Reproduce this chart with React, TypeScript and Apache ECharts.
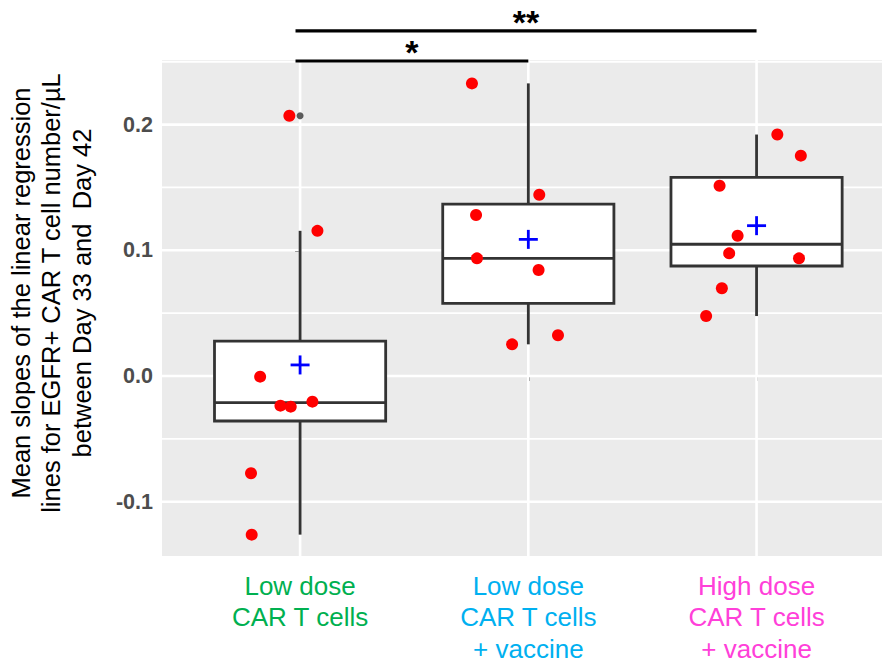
import React, { useEffect, useRef } from "react";
import * as echarts from "echarts";

// ---------- data ----------
const categories = [
  "Low dose\nCAR T cells",
  "Low dose\nCAR T cells\n+ vaccine",
  "High dose\nCAR T cells\n+ vaccine",
];
const categoryColors = ["#00B050", "#00B0F0", "#FF40D9"];

// box statistics per group
const whiskerLow = [-0.1262, 0.0252, 0.0477];
const q1 = [-0.0358, 0.0578, 0.0875];
const median = [-0.0212, 0.0936, 0.1048];
const q3 = [0.0278, 0.1368, 0.158];
const whiskerHigh = [0.1155, 0.2328, 0.1921];
const means = [0.0088, 0.1087, 0.1196];
const outlierGroup = [0];
const outlierValue = [0.207];

// individual points (value, horizontal jitter in category units)
const group1Values = [0.207, 0.1155, -0.0005, -0.0236, -0.0244, -0.0204, -0.0774, -0.1262];
const group1Jitter = [-0.047, 0.076, -0.175, -0.086, -0.041, 0.054, -0.215, -0.212];
const group2Values = [0.2328, 0.1442, 0.1281, 0.0936, 0.0843, 0.0252, 0.0324];
const group2Jitter = [-0.247, 0.048, -0.229, -0.225, 0.045, -0.071, 0.13];
const group3Values = [0.1921, 0.1753, 0.1514, 0.1116, 0.0976, 0.0936, 0.0698, 0.0477];
const group3Jitter = [0.091, 0.194, -0.162, -0.083, -0.12, 0.186, -0.152, -0.221];

// axis ticks
const yMajorTicks = [-0.1, 0, 0.1, 0.2];
const yMinorTicks = [-0.05, 0.05, 0.15, 0.25];
const xTicks = [0, 1, 2];

// significance brackets
const bracketFrom = [-0.02, -0.02];
const bracketTo = [1, 2];
const bracketY = [0.2506, 0.2745];
const bracketLabel = ["*", "**"];

const yTitle = [
  "Mean slopes of the linear regression",
  "lines for EGFR+ CAR T cell number/µL",
  "between Day 33 and  Day 42",
];

// ---------- chart ----------
const FONT = "'Liberation Sans', Arial, Helvetica, sans-serif";
const X_MIN = -0.605;
const X_MAX = 2.6;
const Y_MIN = -0.1432;
const Y_MAX = 0.2514;

export default function App() {
  const ref = useRef<HTMLDivElement>(null);

  useEffect(() => {
    if (!ref.current) return;
    const chart = echarts.init(ref.current, undefined, { renderer: "svg" });

    const groups = [
      [group1Values, group1Jitter],
      [group2Values, group2Jitter],
      [group3Values, group3Jitter],
    ];
    const points: number[][] = [];
    groups.forEach(([vals, jit], g) => {
      vals.forEach((v, i) => points.push([g + jit[i], v]));
    });

    const boxData = xTicks.map((g) => [g, whiskerLow[g], q1[g], median[g], q3[g], whiskerHigh[g]]);
    const meanData = xTicks.map((g) => [g, means[g]]);
    const outlierData = outlierGroup.map((g, i) => [g, outlierValue[i]]);
    const bracketData = bracketFrom.map((f, i) => [f, bracketY[i], bracketTo[i], i]);

    const option: any = {
      animation: false,
      backgroundColor: "#FFFFFF",
      grid: {
        left: 162,
        top: 60,
        width: 731.5,
        height: 496,
        show: true,
        backgroundColor: "#EBEBEB",
        borderWidth: 0,
        containLabel: false,
        outerBoundsMode: "none",
      },
      xAxis: {
        type: "value",
        min: X_MIN,
        max: X_MAX,
        axisLine: { show: false },
        splitLine: { show: false },
        axisTick: {
          show: true,
          customValues: xTicks,
          length: 5,
          lineStyle: { color: "#333333", width: 2 },
        },
        axisLabel: {
          customValues: xTicks,
          formatter: (v: number) => categories[Math.round(Number(v))],
          color: (v: any) => categoryColors[Math.round(Number(v))],
          fontSize: 26,
          lineHeight: 31.5,
          margin: 14,
          fontFamily: FONT,
        },
      },
      yAxis: {
        type: "value",
        min: Y_MIN,
        max: Y_MAX,
        axisLine: { show: false },
        splitLine: { show: false },
        axisTick: {
          show: true,
          customValues: yMajorTicks,
          length: 5,
          lineStyle: { color: "#333333", width: 2 },
        },
        axisLabel: {
          customValues: yMajorTicks,
          formatter: (v: number) => Number(v).toFixed(1),
          fontSize: 21.5,
          fontWeight: "bold",
          color: "#4D4D4D",
          margin: 9,
          fontFamily: FONT,
        },
      },
      graphic: [
        {
          type: "text",
          x: 51,
          y: 293,
          rotation: Math.PI / 2,
          style: {
            text: yTitle.join("\n"),
            fontSize: 25.5,
            lineHeight: 30.5,
            fontFamily: FONT,
            fill: "#000000",
            align: "center",
            verticalAlign: "middle",
            textAlign: "center",
            textVerticalAlign: "middle",
          },
        },
      ],
      series: [
        // panel grid lines
        {
          type: "custom",
          z: 1,
          silent: true,
          data: [[0, 0]],
          renderItem: (params: any, api: any) => {
            const children: any[] = [];
            yMinorTicks.forEach((t) => {
              const a = api.coord([X_MIN, t]);
              const b = api.coord([X_MAX, t]);
              children.push({
                type: "line",
                shape: { x1: a[0], y1: a[1], x2: b[0], y2: b[1] },
                style: { stroke: "#FFFFFF", lineWidth: 1.8 },
              });
            });
            yMajorTicks.forEach((t) => {
              const a = api.coord([X_MIN, t]);
              const b = api.coord([X_MAX, t]);
              children.push({
                type: "line",
                shape: { x1: a[0], y1: a[1], x2: b[0], y2: b[1] },
                style: { stroke: "#FFFFFF", lineWidth: 2.6 },
              });
            });
            xTicks.forEach((t) => {
              const a = api.coord([t, Y_MIN]);
              const b = api.coord([t, Y_MAX]);
              children.push({
                type: "line",
                shape: { x1: a[0], y1: a[1], x2: b[0], y2: b[1] },
                style: { stroke: "#FFFFFF", lineWidth: 2.6 },
              });
            });
            return { type: "group", children };
          },
        },
        // boxes
        {
          type: "custom",
          z: 2,
          silent: true,
          data: boxData,
          encode: { x: 0, y: [1, 2, 3, 4, 5] },
          renderItem: (params: any, api: any) => {
            const g = api.value(0);
            const lo = api.coord([g, api.value(1)]);
            const bq1 = api.coord([g - 0.375, api.value(2)]);
            const med1 = api.coord([g - 0.375, api.value(3)]);
            const med2 = api.coord([g + 0.375, api.value(3)]);
            const bq3 = api.coord([g + 0.375, api.value(4)]);
            const hi = api.coord([g, api.value(5)]);
            const midQ1 = api.coord([g, api.value(2)]);
            const midQ3 = api.coord([g, api.value(4)]);
            const stroke = { stroke: "#333333", lineWidth: 2.8 };
            return {
              type: "group",
              children: [
                { type: "line", shape: { x1: midQ3[0], y1: midQ3[1], x2: hi[0], y2: hi[1] }, style: stroke },
                { type: "line", shape: { x1: lo[0], y1: lo[1], x2: midQ1[0], y2: midQ1[1] }, style: stroke },
                {
                  type: "rect",
                  shape: { x: bq1[0], y: bq3[1], width: bq3[0] - bq1[0], height: bq1[1] - bq3[1] },
                  style: { fill: "#FFFFFF", stroke: "#333333", lineWidth: 2.8 },
                },
                { type: "line", shape: { x1: med1[0], y1: med1[1], x2: med2[0], y2: med2[1] }, style: stroke },
              ],
            };
          },
        },
        // outliers
        {
          type: "scatter",
          z: 3,
          silent: true,
          data: outlierData,
          symbol: "circle",
          symbolSize: 7,
          itemStyle: { color: "#333333" },
        },
        // individual points
        {
          type: "scatter",
          z: 4,
          silent: true,
          data: points,
          symbol: "circle",
          symbolSize: 12,
          itemStyle: { color: "#FF0000", opacity: 1 },
        },
        // means
        {
          type: "custom",
          z: 5,
          silent: true,
          data: meanData,
          encode: { x: 0, y: 1 },
          renderItem: (params: any, api: any) => {
            const p = api.coord([api.value(0), api.value(1)]);
            const h = 9.5;
            const st = { stroke: "#0000FF", lineWidth: 2.8 };
            return {
              type: "group",
              children: [
                { type: "line", shape: { x1: p[0] - h, y1: p[1], x2: p[0] + h, y2: p[1] }, style: st },
                { type: "line", shape: { x1: p[0], y1: p[1] - h, x2: p[0], y2: p[1] + h }, style: st },
              ],
            };
          },
        },
        // significance brackets
        {
          type: "custom",
          z: 6,
          silent: true,
          clip: false,
          data: bracketData,
          encode: { x: [0, 2], y: 1 },
          renderItem: (params: any, api: any) => {
            const a = api.coord([api.value(0), api.value(1)]);
            const b = api.coord([api.value(2), api.value(1)]);
            const label = bracketLabel[api.value(3)];
            return {
              type: "group",
              children: [
                {
                  type: "line",
                  shape: { x1: a[0], y1: a[1], x2: b[0], y2: b[1] },
                  style: { stroke: "#000000", lineWidth: 3.2 },
                },
                {
                  type: "text",
                  x: (a[0] + b[0]) / 2,
                  y: a[1] + 8,
                  style: {
                    text: label,
                    fontSize: 34,
                    fontWeight: "bold",
                    fontFamily: FONT,
                    fill: "#000000",
                    align: "center",
                    verticalAlign: "bottom",
                  },
                },
              ],
            };
          },
        },
      ],
    };

    chart.setOption(option);
    return () => {
      chart.dispose();
    };
  }, []);

  return (
    <div
      ref={ref}
      style={{ position: "absolute", left: 0, top: 0, width: 882, height: 664, overflow: "hidden" }}
    />
  );
}
